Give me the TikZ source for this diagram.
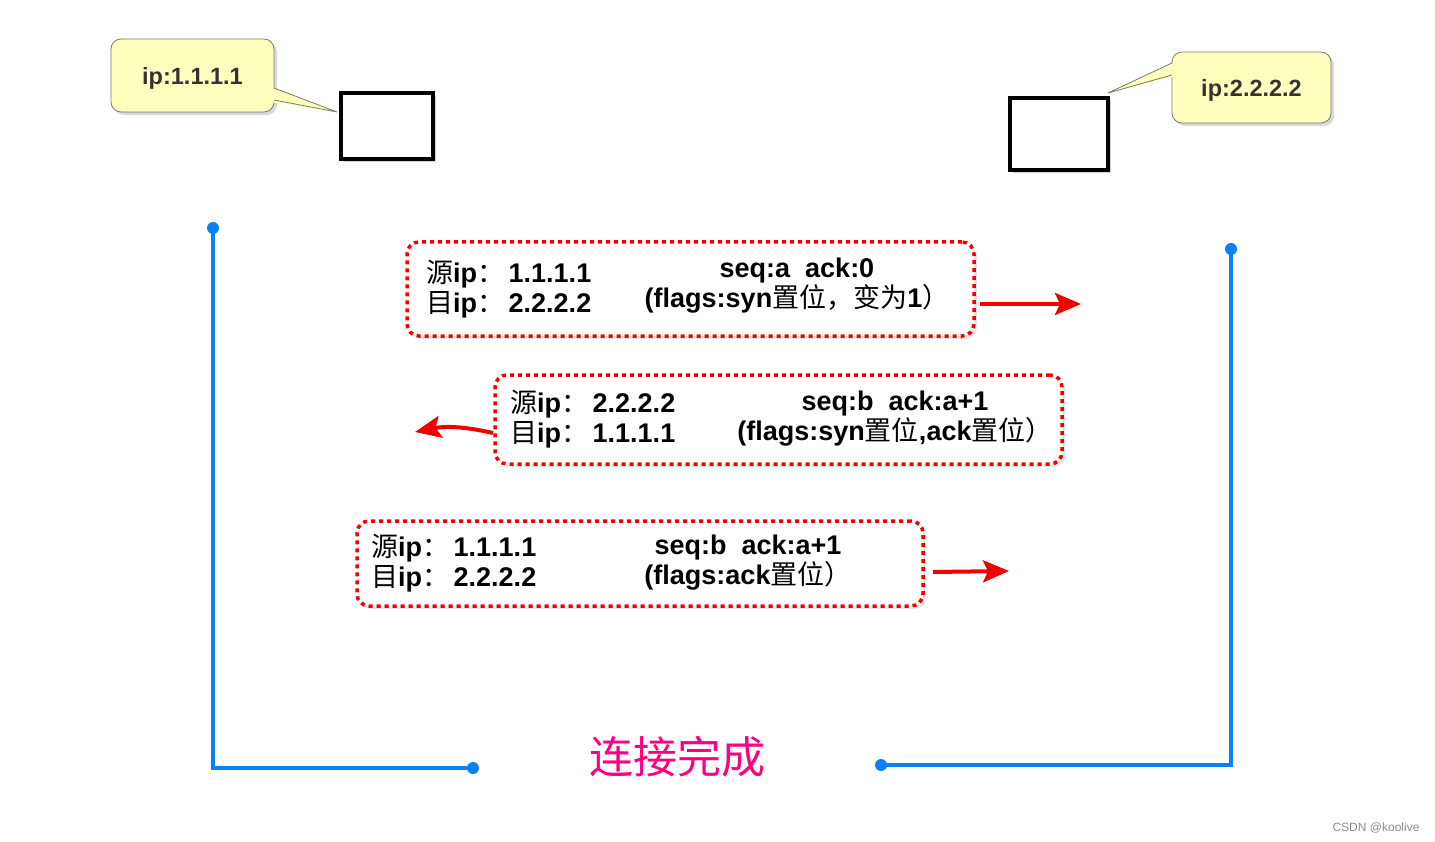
\documentclass[tikz,border=0pt]{standalone}
\usepackage{fontspec}
\setmainfont{Liberation Sans}
\newfontfamily\cjk{Noto Sans CJK SC}
\usetikzlibrary{arrows.meta,shadows}
\newcommand{\zh}[1]{{\cjk\mdseries #1}}
\definecolor{calloutfill}{RGB}{255,255,190}
\definecolor{calloutedge}{RGB}{120,120,110}
\definecolor{wireblue}{RGB}{10,128,250}
\definecolor{hotpink}{RGB}{255,0,128}
\definecolor{msgred}{RGB}{240,0,0}
\begin{document}
\begin{tikzpicture}[x=1pt,y=-1pt,
  callout/.style={draw=calloutedge, line width=0.8pt, fill=calloutfill, rounded corners=10pt,
     drop shadow={opacity=0.3, shadow xshift=3pt, shadow yshift=-3pt},
     font=\fontsize{23.5}{26}\selectfont\bfseries, text=black!80, inner sep=0pt},
  hostbox/.style={draw=black, line width=4pt, fill=white, inner sep=0pt,
     drop shadow={opacity=0.35, shadow xshift=3pt, shadow yshift=-3pt}},
  wire/.style={draw=wireblue, line width=4pt},
  wiredot/.style={fill=wireblue},
  msgbox/.style={draw=msgred, line width=3.5pt, dash pattern=on 4pt off 4pt, rounded corners=12pt,
     fill=white, inner sep=0pt, drop shadow={opacity=0.2, shadow xshift=3pt, shadow yshift=-3pt}},
  msgtext/.style={font=\fontsize{27}{30}\selectfont\bfseries, text=black, inner sep=0pt},
  redarrow/.style={draw=msgred, line width=4pt, -{Stealth[length=26pt,width=22pt,inset=5pt]}},
  donetext/.style={font=\fontsize{44}{48}\selectfont\cjk, text=hotpink, inner sep=0pt},
  wmtext/.style={font=\fontsize{12}{14}\selectfont, text=black!45, inner sep=0pt}
]
\useasboundingbox (0,0) rectangle (1435,842);

% hosts and callouts
\node[hostbox, minimum width=92pt, minimum height=66pt] (h1) at (387,126) {};
\node[hostbox, minimum width=98pt, minimum height=72pt] (h2) at (1059,134) {};

\node[callout, minimum width=163pt, minimum height=73pt] (c1) at (192.5,75.5) {\raisebox{-9pt}[0pt][0pt]{ip:1.1.1.1}};
\fill[calloutfill] (270,86) -- (337,112) -- (270,102) -- cycle;
\draw[calloutedge, line width=0.8pt] (274,88) -- (337,112) -- (274,100);

\node[callout, minimum width=159pt, minimum height=71pt] (c2) at (1251.5,87.5) {\raisebox{-9pt}[0pt][0pt]{ip:2.2.2.2}};
\fill[calloutfill] (1176,62) -- (1108,93) -- (1176,76) -- cycle;
\draw[calloutedge, line width=0.8pt] (1172,63) -- (1108,93) -- (1172,75);

% timelines
\coordinate (lt) at (213,228);
\coordinate (lb) at (473,768);
\coordinate (rt) at (1231,249);
\coordinate (rb) at (881,765);
\draw[wire] (lt) |- (lb);
\draw[wire] (rt) |- (rb);
\fill[wiredot] (lt) circle (6);
\fill[wiredot] (lb) circle (6);
\fill[wiredot] (rt) circle (6);
\fill[wiredot] (rb) circle (6);

% message 1
\node[msgbox, minimum width=567pt, minimum height=94pt] (m1) at (690.5,289) {};
\node[msgtext, anchor=west, align=left] (m1l) at (426,289.5) {\zh{源}ip\zh{：}\,1.1.1.1\\\zh{目}ip\zh{：}\,2.2.2.2};
\node[msgtext, align=center] (m1r) at (797,286) {seq:a\ \ ack:0\\(flags:syn\zh{置位，变为}1\zh{）}};
\coordinate (a1s) at (980,304);
\coordinate (a1e) at (1081,304);
\draw[redarrow] (a1s) -- (a1e);

% message 2
\node[msgbox, minimum width=567pt, minimum height=89pt] (m2) at (778.5,419.5) {};
\node[msgtext, anchor=west, align=left] (m2l) at (510,419) {\zh{源}ip\zh{：}\,2.2.2.2\\\zh{目}ip\zh{：}\,1.1.1.1};
\node[msgtext, align=center] (m2r) at (895,418.5) {seq:b\ \ ack:a+1\\(flags:syn\zh{置位},ack\zh{置位）}};
\coordinate (a2s) at (493,433);
\coordinate (a2e) at (415,432);
\draw[redarrow] (a2s) to[bend right=12] (a2e);

% message 3
\node[msgbox, minimum width=566pt, minimum height=85pt] (m3) at (640,563.5) {};
\node[msgtext, anchor=west, align=left] (m3l) at (371,563) {\zh{源}ip\zh{：}\,1.1.1.1\\\zh{目}ip\zh{：}\,2.2.2.2};
\node[msgtext, align=center] (m3r) at (748,562.5) {seq:b\ \ ack:a+1\\(flags:ack\zh{置位）}};
\coordinate (a3s) at (933,572);
\coordinate (a3e) at (1009,571);
\draw[redarrow] (a3s) -- (a3e);

% footer
\node[donetext] (done) at (677,757) {连接完成};
\node[wmtext] (wm) at (1376,828) {CSDN @koolive};
\end{tikzpicture}
\end{document}
